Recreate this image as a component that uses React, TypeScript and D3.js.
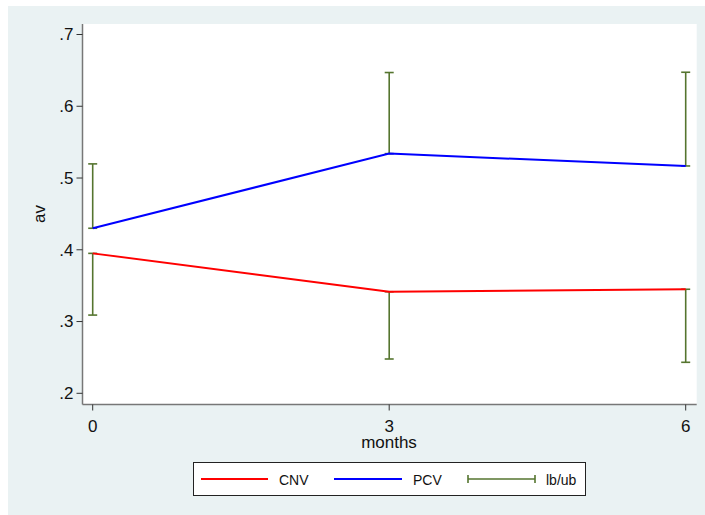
import React from "react";
import * as d3 from "d3";

const months = [0, 3, 6];
const cnv = [0.395, 0.3415, 0.345];
const pcv = [0.43, 0.534, 0.5168];
const cnvLb = [0.309, 0.2478, 0.2432];
const pcvUb = [0.5197, 0.647, 0.6474];
const yTicks = [0.2, 0.3, 0.4, 0.5, 0.6, 0.7];
const xTicks = [0, 3, 6];

const W = 705;
const H = 515;
const font = "'Liberation Sans', Arial, sans-serif";
const green = "#55752F";
const axisColor = "#777";

export default function App() {
  const x = d3.scaleLinear().domain([0, 6]).range([92.7, 685.7]);
  const y = d3.scaleLinear().domain([0.2, 0.7]).range([393.3, 34.5]);
  const plotL = 82.5, plotR = 696.7, plotT = 24, plotB = 404.5;
  const line = d3
    .line<number>()
    .x((_, i) => x(months[i]))
    .y((d) => y(d));
  const bars = [
    ...months.map((m, i) => ({ m, lo: cnvLb[i], hi: cnv[i] })),
    ...months.map((m, i) => ({ m, lo: pcv[i], hi: pcvUb[i] })),
  ];
  const fmt = (v: number) => d3.format(".1f")(v).replace(/^0/, "");
  return (
    <svg
      width={W}
      height={H}
      style={{ position: "absolute", left: 0, top: 0, fontFamily: font }}
    >
      <rect x={0} y={0} width={W} height={H} fill="#fff" />
      <rect x={8} y={6} width={W - 8} height={H - 6} fill="#EAF2F3" />
      <rect x={plotL} y={plotT} width={plotR - plotL} height={plotB - plotT} fill="#fff" />
      {bars.map((b, i) => (
        <g key={i} stroke={green} strokeWidth={1.6}>
          <line x1={x(b.m)} x2={x(b.m)} y1={y(b.lo)} y2={y(b.hi)} />
          <line x1={x(b.m) - 4.5} x2={x(b.m) + 4.5} y1={y(b.lo)} y2={y(b.lo)} />
          <line x1={x(b.m) - 4.5} x2={x(b.m) + 4.5} y1={y(b.hi)} y2={y(b.hi)} />
        </g>
      ))}
      <path d={line(cnv) || ""} fill="none" stroke="#FF0000" strokeWidth={2} />
      <path d={line(pcv) || ""} fill="none" stroke="#0000FF" strokeWidth={2} />
      {/* axes */}
      <line x1={plotL} x2={plotL} y1={plotT} y2={plotB} stroke={axisColor} strokeWidth={1.5} />
      <line x1={plotL} x2={plotR} y1={plotB} y2={plotB} stroke={axisColor} strokeWidth={1.5} />
      {yTicks.map((t) => (
        <g key={t}>
          <line x1={plotL - 6} x2={plotL} y1={y(t)} y2={y(t)} stroke="#333" strokeWidth={1} />
          <text x={plotL - 9} y={y(t)} dy="0.35em" textAnchor="end" fontSize={17} fill="#111">
            {fmt(t)}
          </text>
        </g>
      ))}
      {xTicks.map((t) => (
        <g key={t}>
          <line x1={x(t)} x2={x(t)} y1={plotB} y2={plotB + 6} stroke="#333" strokeWidth={1} />
          <text x={x(t)} y={431.5} textAnchor="middle" fontSize={17} fill="#111">
            {t}
          </text>
        </g>
      ))}
      <text x={389} y={447.5} textAnchor="middle" fontSize={17} fill="#111">
        months
      </text>
      <text
        transform={`translate(45, 214) rotate(-90)`}
        textAnchor="middle"
        fontSize={17}
        fill="#111"
      >
        av
      </text>
      {/* legend */}
      <rect x={193.5} y={462.5} width={392} height={33} fill="#fff" stroke="#222" strokeWidth={1} />
      <line x1={201} x2={268} y1={479} y2={479} stroke="#FF0000" strokeWidth={2} />
      <text x={279} y={484.5} fontSize={14} fill="#111">CNV</text>
      <line x1={334} x2={402} y1={479} y2={479} stroke="#0000FF" strokeWidth={2} />
      <text x={413} y={484.5} fontSize={14} fill="#111">PCV</text>
      <g stroke={green} strokeWidth={1.6}>
        <line x1={468} x2={535} y1={479} y2={479} />
        <line x1={468} x2={468} y1={475} y2={483} />
        <line x1={535} x2={535} y1={475} y2={483} />
      </g>
      <text x={546} y={484.5} fontSize={14} fill="#111">lb/ub</text>
    </svg>
  );
}
